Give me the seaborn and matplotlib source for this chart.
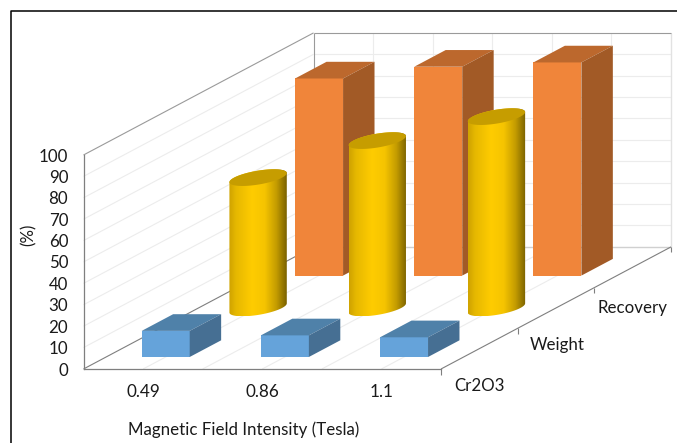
import numpy as np
import pandas as pd
import matplotlib
matplotlib.use("Agg")
import matplotlib.pyplot as plt
import seaborn as sns
from matplotlib.colors import LinearSegmentedColormap
from matplotlib.lines import Line2D
from matplotlib.patches import Polygon

fields = ["0.49", "0.86", "1.1"]
series = ["Cr2O3", "Weight", "Recovery"]
cr2o3 = [12.2, 10.1, 9.2]
weight = [60.9, 78.2, 89.4]
recovery = [92.1, 97.6, 99.6]
yticks = list(range(0, 101, 10))

# oblique depth: one series row shifts this much in (category, %) units
DX, DY = 0.6435, 19.02
GAP = 0.295            # free depth in front of a box, in rows
BW = 0.4027            # box width in categories
DEPTH = 1 - 2 * GAP

sns.set_theme(style="white")
plt.rcParams["font.family"] = ["Lato", "DejaVu Sans"]
W, H = 677, 443
fig = plt.figure(figsize=(W / 100, H / 100), dpi=100, facecolor="white")
ax = fig.add_axes([83.5 / W, (H - 369) / H, 357.5 / W, 214 / H], facecolor="none")
cats = np.arange(len(fields))
XLIM, YLIM = (-0.5, 2.5), (0, 100)
ax.set_xlim(XLIM); ax.set_ylim(YLIM)


def px(c, r, v):
    return c + r * DX, v + r * DY


def seg(p, q, color, lw=0.8, z=1):
    ax.plot([p[0], q[0]], [p[1], q[1]], color=color, lw=lw, clip_on=False,
            zorder=z, solid_capstyle="butt")


GRID = "#ECECEC"
EDGE = "#9A9A9A"
for v in yticks[1:-1]:
    seg(px(-0.5, 0, v), px(-0.5, 3, v), GRID)
    seg(px(-0.5, 3, v), px(2.5, 3, v), GRID)
for k in np.arange(0.5, 3, 0.5):
    seg(px(-0.5 + k, 3, 0), px(-0.5 + k, 3, 100), GRID)
    seg(px(-0.5 + k, 0, 0), px(-0.5 + k, 3, 0), GRID)
seg(px(2.5, 3, 0), px(2.5, 3, 100), "#E2E2E2", 1.0)
seg(px(-0.5, 3, 0), px(2.5, 3, 0), "#D0D0D0", 1.0)
seg(px(-0.5, 0, 100), px(-0.5, 3, 100), EDGE)
seg(px(-0.5, 3, 100), px(2.5, 3, 100), EDGE)
seg(px(-0.5, 3, 0), px(-0.5, 3, 100), EDGE)
seg(px(-0.5, 0, 0), px(-0.5, 3, 0), "#7F7F7F")
seg(px(2.5, 0, 0), px(2.5, 3, 0), "#7F7F7F")
for r in range(4):
    x, y = px(2.5, r, 0)
    seg((x, y), (x, y - 2.6), "#7F7F7F")


def box_bars(vals, row, front, top, side, z):
    """Front faces through seaborn, top and side faces as projected polygons."""
    r0 = row + GAP
    floor = r0 * DY
    df = pd.DataFrame({"pos": cats + r0 * DX, "value": vals})
    sns.barplot(data=df, x="pos", y="value", native_scale=True, width=BW, color=front,
                saturation=1, errorbar=None, bottom=floor, linewidth=0, ax=ax, zorder=z,
                clip_on=False)
    for c, v in zip(cats, vals):
        l, rt = c - BW / 2, c + BW / 2
        ax.add_patch(Polygon([px(l, r0, v), px(rt, r0, v), px(rt, r0 + DEPTH, v), px(l, r0 + DEPTH, v)],
                             fc=top, ec="none", clip_on=False, zorder=z))
        ax.add_patch(Polygon([px(rt, r0, 0), px(rt, r0, v), px(rt, r0 + DEPTH, v), px(rt, r0 + DEPTH, 0)],
                             fc=side, ec="none", clip_on=False, zorder=z))


cyl_cmap = LinearSegmentedColormap.from_list(
    "cyl", [(0, "#CFA300"), (0.12, "#E6B800"), (0.4, "#FFCC00"), (0.62, "#F5C400"),
            (0.82, "#C49C00"), (1, "#7A6200")])


def cylinders(vals, row, z):
    rc = row + 0.5
    hr = DEPTH / 2
    a = BW / 2
    tr = np.arctan2(hr * DX, a)
    half = np.hypot(a, hr * DX)
    for c, v in zip(cats, vals):
        def ell(t, h):
            return (c + a * np.cos(t) + (rc + hr * np.sin(t)) * DX,
                    h + (rc + hr * np.sin(t)) * DY)
        t1 = np.linspace(tr - np.pi, tr, 60)
        t2 = np.linspace(tr, tr + np.pi, 60)
        bx, by = ell(t1, 0)
        tx, ty = ell(t2, v)
        sil = Polygon(np.c_[np.r_[bx, tx], np.r_[by, ty]], transform=ax.transData,
                      fc="none", ec="none", clip_on=False)
        ax.add_patch(sil)
        cx = c + rc * DX
        im = ax.imshow(np.linspace(0, 1, 200)[None, :], cmap=cyl_cmap, aspect="auto",
                       extent=(cx - half, cx + half, by.min(), ty.max()),
                       zorder=z, interpolation="bilinear")
        im.set_clip_path(sil)
        im.set_clip_box(fig.bbox)
        t = np.linspace(0, 2 * np.pi, 120)
        ex, ey = ell(t, v)
        ax.add_patch(Polygon(np.c_[ex, ey], fc="#C69D00", ec="none", clip_on=False, zorder=z + 0.1))


box_bars(recovery, 2, "#F0853A", "#BC682D", "#A25A26", 3)
cylinders(weight, 1, 4)
box_bars(cr2o3, 0, "#65A3DA", "#4F81A9", "#466F93", 5)

ax.set_xlim(XLIM); ax.set_ylim(YLIM)
ax.set_xticks(cats, fields)
ax.set_yticks(yticks)
ax.tick_params(axis="x", length=0, pad=10.5, labelsize=12.3, colors="#1a1a1a")
ax.tick_params(axis="y", length=0, pad=11, labelsize=12.2, colors="#1a1a1a")
ax.set_xlabel("Magnetic Field Intensity (Tesla)", fontsize=12.2, color="#1a1a1a")
ax.set_ylabel("(%)", fontsize=12.2, color="#1a1a1a")
ax.xaxis.set_label_coords(0.449, -0.245)
ax.yaxis.set_label_coords(-0.132, 0.626)
for s in ("top", "right"):
    ax.spines[s].set_visible(False)
for s in ("left", "bottom"):
    ax.spines[s].set_color("#7F7F7F")
    ax.spines[s].set_linewidth(0.9)

offsets = [(0, -37), (1, -37), (0, -41)]
for i, name in enumerate(series):
    ax.annotate(name, xy=px(2.5, i + 0.5, 0), xytext=offsets[i], textcoords=("offset pixels"),
                ha="center", va="center", fontsize=12.2, color="#1a1a1a", annotation_clip=False)

fig.add_artist(Line2D([10.5 / W, 10.5 / W, 1], [0, 1 - 11 / H, 1 - 11 / H], color="black", lw=1.1,
                      transform=fig.transFigure))
fig.savefig("out.png", dpi=100)
